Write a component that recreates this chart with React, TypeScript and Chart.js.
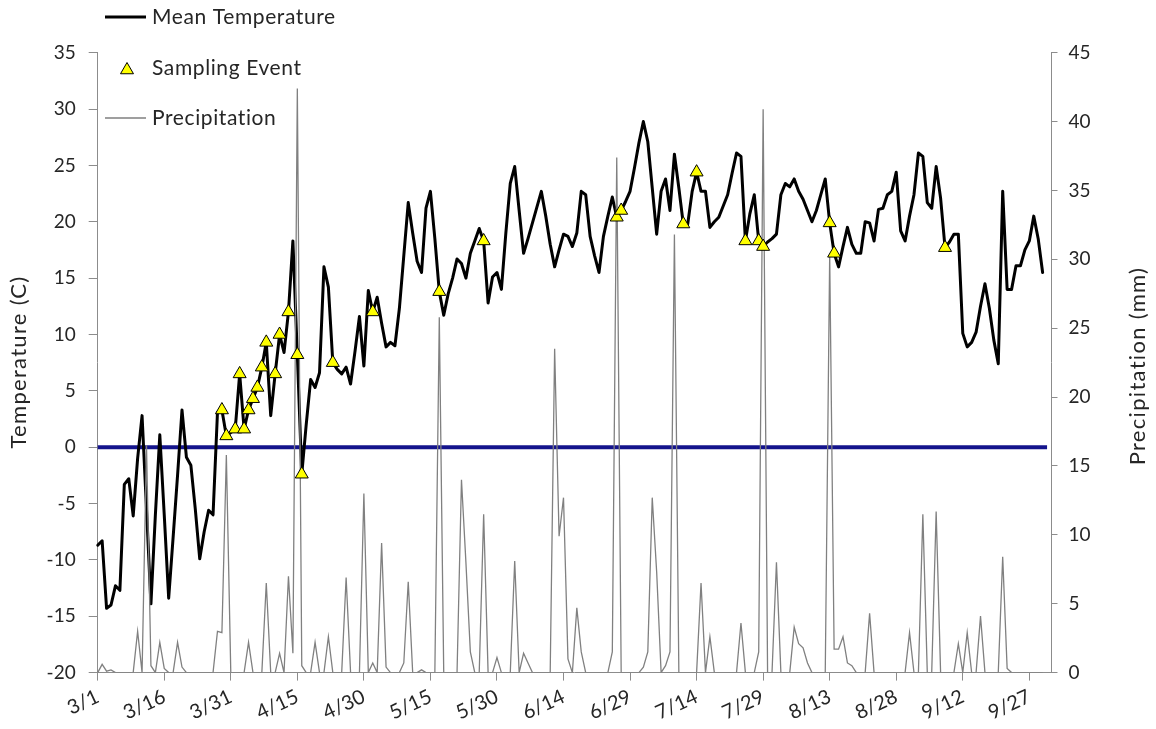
import React, { useEffect, useRef } from 'react';
import { Chart, registerables } from 'chart.js';

Chart.register(...registerables);

// ---------- data ----------
const START_MONTH = 3; // March 1st is the first category
const N_CATEGORIES = 216; // 3/1 .. 10/2

const TICK_LABELS = ['3/1', '3/16', '3/31', '4/15', '4/30', '5/15', '5/30', '6/14', '6/29', '7/14', '7/29', '8/13', '8/28', '9/12', '9/27'];

const MEAN_TEMPERATURE = [
  -8.7, -8.3, -14.3, -14.0, -12.3, -12.7, -3.3, -2.8, -6.1, -1.0,
  2.8, -5.5, -13.9, -6.0, 1.1, -6.0, -13.4, -8.0, -2.5, 3.3,
  -0.9, -1.6, -5.5, -9.9, -7.5, -5.6, -6.0, 3.1, 3.3, 1.0,
  1.3, 1.6, 6.5, 1.6, 3.3, 4.3, 5.3, 7.1, 9.3, 2.8,
  6.5, 10.0, 8.4, 12.0, 18.3, 8.2, -2.4, 2.0, 6.0, 5.3,
  6.6, 16.0, 14.2, 7.5, 6.9, 6.5, 7.1, 5.6, 8.5, 11.6,
  7.2, 13.9, 12.0, 13.3, 11.0, 8.9, 9.3, 9.0, 12.3, 17.0,
  21.7, 19.0, 16.5, 15.5, 21.2, 22.7, 18.5, 13.8, 11.7, 13.6,
  15.0, 16.7, 16.3, 15.0, 17.2, 18.3, 19.4, 18.3, 12.8, 15.1,
  15.5, 14.0, 19.0, 23.4, 24.9, 21.0, 17.2, 18.5, 19.9, 21.3,
  22.7, 20.5, 18.0, 16.0, 17.5, 18.9, 18.7, 17.8, 19.0, 22.7,
  22.4, 18.7, 17.0, 15.5, 18.7, 20.5, 22.2, 20.4, 21.0, 21.8,
  22.7, 24.8, 27.0, 28.9, 27.1, 23.0, 18.9, 22.7, 23.8, 21.0,
  26.0, 23.0, 19.8, 19.8, 22.7, 24.4, 22.7, 22.7, 19.5, 20.0,
  20.4, 21.4, 22.4, 24.3, 26.1, 25.8, 18.3, 20.7, 22.4, 18.3,
  17.8, 18.2, 18.5, 18.9, 22.4, 23.4, 23.1, 23.8, 22.7, 22.0,
  21.0, 20.0, 21.0, 22.4, 23.8, 19.9, 17.2, 16.0, 17.8, 19.5,
  18.0, 17.2, 17.2, 20.0, 19.9, 18.3, 21.1, 21.2, 22.4, 22.7,
  24.4, 19.2, 18.3, 20.5, 22.4, 26.1, 25.8, 21.7, 21.2, 24.9,
  22.1, 17.7, 18.2, 18.9, 18.9, 10.1, 8.9, 9.3, 10.2, 12.5,
  14.5, 12.3, 9.5, 7.4, 22.7, 14.0, 14.0, 16.1, 16.1, 17.5,
  18.3, 20.5, 18.5, 15.5,
];

const PRECIPITATION = [
  0, 0.6, 0.1, 0.2, 0, 0, 0, 0, 0, 3.0,
  0, 16.5, 0.5, 0, 2.2, 0.3, 0, 0, 2.2, 0.4,
  0, 0, 0, 0, 0, 0, 0, 3.0, 2.9, 15.8,
  0, 0, 0, 0, 2.2, 0, 0, 0, 6.5, 0,
  0, 1.4, 0, 7.0, 1.4, 42.4, 0.5, 0, 0, 2.2,
  0, 0, 2.6, 0, 0, 0, 6.9, 0, 0, 0,
  13.0, 0, 0.7, 0, 9.4, 0.4, 0, 0, 0, 0.7,
  6.6, 0, 0, 0.2, 0, 0, 0, 25.8, 0, 0,
  0, 0, 14.0, 8.0, 1.5, 0, 0, 11.5, 0, 0,
  1.1, 0, 0, 0, 8.1, 0, 1.4, 0.7, 0, 0,
  0, 0, 0, 23.5, 9.9, 12.7, 1.0, 0, 4.7, 1.5,
  0, 0, 0, 0, 0, 0, 1.5, 37.4, 0, 0,
  0, 0, 0, 0.4, 1.5, 12.7, 7.3, 0, 0.5, 1.5,
  31.8, 0, 0, 0, 0, 0, 6.5, 0, 2.6, 0,
  0, 0, 0, 0, 0, 3.6, 0, 0, 0, 1.5,
  40.9, 0, 0, 8.0, 0, 0, 0, 3.3, 2.1, 1.8,
  0.7, 0, 0, 0, 0, 30.3, 1.7, 1.7, 2.6, 0.7,
  0.5, 0, 0, 0, 4.3, 0, 0, 0, 0, 0,
  0, 0, 0, 2.9, 0, 0, 11.5, 0, 0, 11.7,
  0, 0, 0, 0, 2.1, 0, 2.9, 0, 0, 4.1,
  0, 0, 0, 0, 8.4, 0.3, 0, 0, 0, 0,
  0, 0, 0, 0,
];

const SAMPLING_DATES = [
  '3/29', '3/30', '4/1', '4/2', '4/3', '4/4', '4/5', '4/6', '4/7', '4/8',
  '4/10', '4/11', '4/13', '4/15', '4/16', '4/23', '5/2', '5/17', '5/27', '6/26',
  '6/27', '7/11', '7/14', '7/25', '7/28', '7/29', '8/13', '8/14', '9/8',
];
const SAMPLING_TEMPS = [
  3.3, 1.0, 1.6, 6.5, 1.6, 3.3, 4.3, 5.3, 7.1, 9.3,
  6.5, 10.0, 12.0, 8.2, -2.4, 7.5, 12.0, 13.8, 18.3, 20.4,
  21.0, 19.8, 24.4, 18.3, 18.3, 17.8, 19.9, 17.2, 17.7,
];

const ZERO_LINE_VALUE = 0;
const ZERO_LINE_DATES = ['3/1', '10/1'];

// category labels: one per day from 3/1
const DATES: string[] = [];
for (let i = 0; i < N_CATEGORIES; i++) {
  const d = new Date(2001, START_MONTH - 1, 1 + i);
  DATES.push(`${d.getMonth() + 1}/${d.getDate()}`);
}
const TICK_SET = new Set(TICK_LABELS);

// ---------- style ----------
const W = 1156;
const H = 729;
const FONT = 'Lato, "Open Sans", "DejaVu Sans", sans-serif';
const TEXT = '#262626';
const AXIS = '#8c8c8c';
const PLOT_LEFT = 97.7;
const PLOT_RIGHT = 1051.5;
const PLOT_TOP = 52.7;
const PLOT_BOTTOM = 672.6;

const overlayPlugin = {
  id: 'overlay',
  afterDraw(chart: any) {
    const ctx = chart.ctx as any;
    ctx.save();
    ctx.fillStyle = TEXT;
    ctx.textBaseline = 'middle';

    // axis titles
    ctx.font = `22px ${FONT}`;
    ctx.textAlign = 'center';
    ctx.letterSpacing = '1.3px';
    ctx.save();
    ctx.translate(19, 362);
    ctx.rotate(-Math.PI / 2);
    ctx.fillText('Temperature (C)', 0, 0);
    ctx.restore();
    ctx.save();
    ctx.translate(1138, 366);
    ctx.rotate(-Math.PI / 2);
    ctx.fillText('Precipitation (mm)', 0, 0);
    ctx.restore();

    // legend
    ctx.textAlign = 'left';
    ctx.font = `21px ${FONT}`;
    ctx.letterSpacing = '0.6px';
    ctx.strokeStyle = '#000';
    ctx.lineWidth = 3;
    ctx.beginPath();
    ctx.moveTo(105, 17);
    ctx.lineTo(146, 17);
    ctx.stroke();
    ctx.fillText('Mean Temperature', 152, 17);

    const tx = 127, ty = 70, r = 7.5;
    ctx.beginPath();
    ctx.moveTo(tx, ty - r);
    ctx.lineTo(tx + r * Math.sin((2 * Math.PI) / 3), ty - r * Math.cos((2 * Math.PI) / 3));
    ctx.lineTo(tx + r * Math.sin((4 * Math.PI) / 3), ty - r * Math.cos((4 * Math.PI) / 3));
    ctx.closePath();
    ctx.fillStyle = '#ffff00';
    ctx.fill();
    ctx.lineWidth = 1;
    ctx.strokeStyle = '#000';
    ctx.stroke();
    ctx.fillStyle = TEXT;
    ctx.fillText('Sampling Event', 152, 68);

    ctx.strokeStyle = '#7f7f7f';
    ctx.lineWidth = 1.5;
    ctx.beginPath();
    ctx.moveTo(105, 118);
    ctx.lineTo(146, 118);
    ctx.stroke();
    ctx.fillText('Precipitation', 152, 118);
    ctx.restore();
  },
};

export default function App() {
  const canvasRef = useRef<HTMLCanvasElement | null>(null);

  useEffect(() => {
    document.body.style.margin = '0';
    const canvas = canvasRef.current;
    if (!canvas) return;
    Chart.defaults.font.family = FONT;
    Chart.defaults.color = TEXT;

    const chart = new Chart(canvas, {
      type: 'line',
      data: {
        labels: DATES,
        datasets: [
          {
            label: 'Sampling Event',
            data: SAMPLING_DATES.map((d, i) => ({ x: d, y: SAMPLING_TEMPS[i] })),
            showLine: false,
            pointStyle: 'triangle',
            pointRadius: 7.5,
            pointBackgroundColor: '#ffff00',
            pointBorderColor: '#000000',
            pointBorderWidth: 1,
            yAxisID: 'y',
            order: 0,
          } as any,
          {
            label: 'Precipitation',
            data: PRECIPITATION,
            borderColor: '#808080',
            borderWidth: 1.3,
            pointRadius: 0,
            yAxisID: 'y1',
            order: 1,
          },
          {
            label: 'Mean Temperature',
            data: MEAN_TEMPERATURE,
            borderColor: '#000000',
            borderWidth: 3,
            borderJoinStyle: 'round',
            borderCapStyle: 'round',
            pointRadius: 0,
            yAxisID: 'y',
            order: 2,
          },
          {
            label: 'Zero',
            data: ZERO_LINE_DATES.map((d) => ({ x: d, y: ZERO_LINE_VALUE })),
            borderColor: '#14148c',
            borderWidth: 4,
            pointRadius: 0,
            yAxisID: 'y',
            order: 3,
          } as any,
        ],
      },
      options: {
        responsive: false,
        animation: false,
        events: [],
        layout: { padding: { top: PLOT_TOP, left: 0, right: 0, bottom: 0 } },
        plugins: {
          legend: { display: false },
          tooltip: { enabled: false },
          title: { display: false },
        },
        scales: {
          x: {
            type: 'category',
            offset: false,
            grid: {
              drawOnChartArea: false,
              drawTicks: true,
              tickLength: 8,
              tickColor: (c: any) => (TICK_SET.has(DATES[c.index]) ? AXIS : 'rgba(0,0,0,0)'),
            },
            border: { display: true, color: AXIS, width: 1 },
            ticks: {
              autoSkip: false,
              minRotation: 25,
              maxRotation: 25,
              padding: 4,
              font: { size: 20 },
              color: TEXT,
              callback: (_v: any, i: number) => (TICK_SET.has(DATES[i]) ? DATES[i] : ''),
            },
            afterFit: (s: any) => {
              s.height = H - PLOT_BOTTOM;
            },
          },
          y: {
            type: 'linear',
            position: 'left',
            min: -20,
            max: 35,
            grid: { drawOnChartArea: false, drawTicks: true, tickLength: 9, tickColor: AXIS },
            border: { display: true, color: AXIS, width: 1 },
            ticks: { stepSize: 5, padding: 13, font: { size: 19 }, color: TEXT },
            afterFit: (s: any) => {
              s.width = PLOT_LEFT;
            },
          },
          y1: {
            type: 'linear',
            position: 'right',
            min: 0,
            max: 45,
            grid: { drawOnChartArea: false, drawTicks: true, tickLength: 6, tickColor: AXIS },
            border: { display: true, color: AXIS, width: 1 },
            ticks: { stepSize: 5, padding: 11, font: { size: 19 }, color: TEXT },
            afterFit: (s: any) => {
              s.width = W - PLOT_RIGHT;
            },
          },
        },
      },
      plugins: [overlayPlugin],
    });

    return () => {
      chart.destroy();
    };
  }, []);

  return (
    <div style={{ position: 'fixed', left: 0, top: 0, width: W, height: H, background: '#ffffff' }}>
      <canvas ref={canvasRef} width={W} height={H} style={{ display: 'block', width: W, height: H }} />
    </div>
  );
}
